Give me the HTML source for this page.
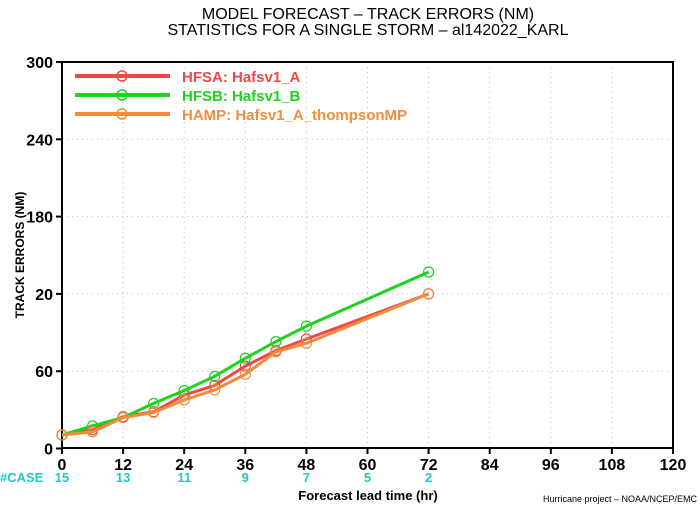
<!DOCTYPE html>
<html><head><meta charset="utf-8"><style>
body{margin:0;background:#fff}
svg text{font-family:"Liberation Sans",sans-serif;font-weight:bold}
</style></head><body>
<svg id="chart" width="700" height="506" xmlns="http://www.w3.org/2000/svg">
<text x="368" y="19" font-size="16" font-weight="normal" text-anchor="middle" style="font-weight:normal">MODEL FORECAST – TRACK ERRORS (NM)</text>
<text x="368" y="35" font-size="16" text-anchor="middle" style="font-weight:normal">STATISTICS FOR A SINGLE STORM – al142022_KARL</text>
<g id="grid"></g>
<rect x="62" y="62" width="611" height="386" fill="none" stroke="#000" stroke-width="2"/>
<g id="axes"></g>
<g id="series"></g>
<text transform="translate(24,255) rotate(-90)" font-size="12" text-anchor="middle">TRACK ERRORS (NM)</text>
<text x="368" y="500" font-size="13" text-anchor="middle">Forecast lead time (hr)</text>
<text x="0" y="482" font-size="13" fill="#22c8c8">#CASE</text>
<text x="697" y="502" font-size="9" text-anchor="end" style="font-weight:normal">Hurricane project – NOAA/NCEP/EMC</text>
<g id="legend"></g>
</svg>
<script>
const hours=[0,6,12,18,24,30,36,42,48,72];
const hfsa=[10.5,14.5,24.7,28.5,41.5,49,64,76,85,120];
const hfsb=[10.5,17.5,24,35,45,56,70,83,95,137];
const hamp=[10.5,13,24,28,37.7,45.5,57.6,75,81.7,120];
const xTicks=[0,12,24,36,48,60,72,84,96,108,120];
const yTicks=[0,60,120,180,240,300];
const yTickLabels=["0","60","20","180","240","300"];
const caseHours=[0,12,24,36,48,60,72];
const caseCounts=[15,13,11,9,7,5,2];
const seriesNames=["HFSA:  Hafsv1_A","HFSB:  Hafsv1_B","HAMP:  Hafsv1_A_thompsonMP"];
const seriesColors=["#f04848","#1ed21e","#f08c3c"];
const NS="http://www.w3.org/2000/svg";
const X=v=>62+v*611/120, Y=v=>448.5-v*386.5/300;
function mk(t,a,p){const e=document.createElementNS(NS,t);for(const k in a)e.setAttribute(k,a[k]);p.appendChild(e);return e;}
const grid=document.getElementById('grid'),axes=document.getElementById('axes'),ser=document.getElementById('series'),leg=document.getElementById('legend');
xTicks.forEach(t=>{
 if(t>0&&t<120){const l=mk('line',{x1:X(t),x2:X(t),y1:62,y2:448,stroke:'#bbb','stroke-dasharray':'1 4'},grid);
 
 }
 const k=mk('line',{x1:X(t),x2:X(t),y1:448,y2:454,stroke:'#000','stroke-width':2},axes);
 
 
 const tx=mk('text',{x:X(t),y:470,'font-size':16,'text-anchor':'middle'},axes);tx.textContent=t;
 
 
});
yTicks.forEach((t,i)=>{
 if(t>0&&t<300){const l=mk('line',{x1:62,x2:673,y1:Y(t),y2:Y(t),stroke:'#bbb','stroke-dasharray':'1 4'},grid);
 
 }
 const k=mk('line',{x1:56,x2:62,y1:Y(t),y2:Y(t),stroke:'#000','stroke-width':2},axes);
 
 
 const tx=mk('text',{x:53,y:Y(t)+6,'font-size':16,'text-anchor':'end'},axes);tx.textContent=yTickLabels[i];
 
 
});
caseHours.forEach((h,i)=>{
 const tx=mk('text',{x:X(h),y:482,'font-size':13,'text-anchor':'middle',fill:'#22c8c8'},axes);tx.textContent=caseCounts[i];
 
 
});
[hfsa,hfsb,hamp].forEach((d,s)=>{
 const pl=mk('polyline',{points:d.map((v,i)=>X(hours[i])+','+Y(v)).join(' '),fill:'none',stroke:seriesColors[s],'stroke-width':3},ser);
 
 
 d.forEach((v,i)=>{const c=mk('circle',{cx:X(hours[i]),cy:Y(v),r:5,fill:'none',stroke:seriesColors[s],'stroke-width':1.2},ser);
 
 });
 const y=76+s*19;
 const ll=mk('line',{x1:75,x2:170,y1:y,y2:y,stroke:seriesColors[s],'stroke-width':4},leg);
 
 
 const lc=mk('circle',{cx:122,cy:y,r:5,fill:'none',stroke:seriesColors[s],'stroke-width':1.5},leg);
 
 
 const lt=mk('text',{x:182,y:y+6,'font-size':15,fill:seriesColors[s]},leg);lt.textContent=seriesNames[s];
 
 
});
</script>
</body></html>
